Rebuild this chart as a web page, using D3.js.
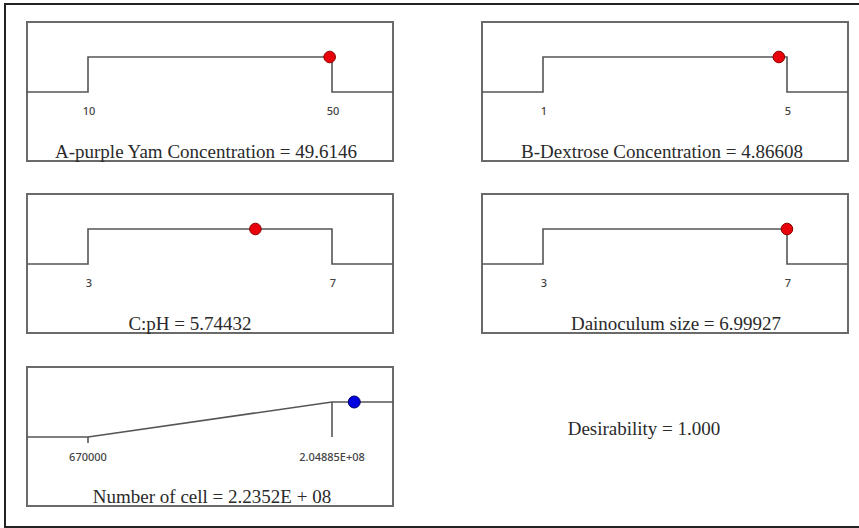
<!DOCTYPE html>
<html>
<head>
<meta charset="utf-8">
<script src="https://cdn.jsdelivr.net/npm/d3@7/dist/d3.min.js"></script>
<style>
  html, body { margin: 0; padding: 0; background: #fff; }
  svg { display: block; }
</style>
</head>
<body>
<svg id="chart" width="859" height="528"></svg>
<script>
// Factor settings for the optimisation ramps
const factorNames = ["A-purple Yam Concentration", "B-Dextrose Concentration", "C:pH", "Dainoculum size"];
const factorLow = [10, 1, 3, 3];
const factorHigh = [50, 5, 7, 7];
const factorOptimum = [49.6146, 4.86608, 5.74432, 6.99927];

// Response settings
const responseName = "Number of cell";
const responseLow = 670000;
const responseHigh = 2.04885e8;
const responseOptimum = 2.2352e8;
const responseTickLabels = ["670000", "2.04885E+08"];
const responseValueLabel = "2.2352E + 08";

const desirability = 1.000;

// Panel layout: [left, top] of each ramp box and horizontal nudge of its caption
const panelPos = [[27, 22], [482, 22], [27, 194], [482, 194], [27, 367]];
const captionShift = [-4, -3, -20, 11, 2];
const panelW = 366, panelH = 139;

const svg = d3.select("#chart");
const ink = "#555";

// outer frame
svg.append("rect")
  .attr("x", 5).attr("y", 4).attr("width", 870).attr("height", 523)
  .attr("fill", "none").attr("stroke", "#222").attr("stroke-width", 2);

function panelScales(i, lo, hi) {
  const [px, py] = panelPos[i];
  const pad = (hi - lo) * 0.25;
  const x = d3.scaleLinear().domain([lo - pad, hi + pad]).range([px, px + panelW]);
  const y = d3.scaleLinear().domain([0, 1]).range([py + 70, py + 35]);
  return { x, y, px, py, dom: x.domain() };
}

function frame(g, px, py) {
  g.append("rect")
    .attr("x", px).attr("y", py).attr("width", panelW).attr("height", panelH)
    .attr("fill", "none").attr("stroke", "#6a6a6a").attr("stroke-width", 2);
}

function caption(g, i, text, px, py) {
  g.append("text")
    .attr("x", px + panelW / 2 + captionShift[i]).attr("y", py + 136)
    .attr("text-anchor", "middle")
    .attr("font-family", "Liberation Serif, Times New Roman, serif")
    .attr("font-size", 19).attr("fill", "#2a2a2a")
    .text(text);
}

function tickLabel(g, x, y, text) {
  g.append("text")
    .attr("x", x).attr("y", y).attr("text-anchor", "middle")
    .attr("font-family", "Noto Sans, Open Sans, sans-serif")
    .attr("font-size", 11).attr("font-weight", 500).attr("fill", "#444")
    .text(text);
}

const line = d3.line();

// factor ramps
factorNames.forEach((name, i) => {
  const lo = factorLow[i], hi = factorHigh[i], opt = factorOptimum[i];
  const { x, y, px, py, dom } = panelScales(i, lo, hi);
  const g = svg.append("g");
  frame(g, px, py);
  const pts = [[dom[0], 0], [lo, 0], [lo, 1], [hi, 1], [hi, 0], [dom[1], 0]]
    .map(d => [x(d[0]), y(d[1])]);
  g.append("path").attr("d", line(pts))
    .attr("fill", "none").attr("stroke", ink).attr("stroke-width", 1.6);
  tickLabel(g, x(lo) + 1, y(0) + 23, String(lo));
  tickLabel(g, x(hi) + 1, y(0) + 23, String(hi));
  g.append("circle").attr("cx", x(opt)).attr("cy", y(1)).attr("r", 5.8)
    .attr("fill", "#e8000b").attr("stroke", "#8a0000").attr("stroke-width", 1);
  caption(g, i, `${name} = ${opt}`, px, py);
});

// response ramp
{
  const i = 4;
  const { x, y, px, py, dom } = panelScales(i, responseLow, responseHigh);
  const g = svg.append("g");
  frame(g, px, py);
  const pts = [[dom[0], 0], [responseLow, 0], [responseHigh, 1], [dom[1], 1]]
    .map(d => [x(d[0]), y(d[1])]);
  g.append("path").attr("d", line(pts))
    .attr("fill", "none").attr("stroke", ink).attr("stroke-width", 1.6);
  g.append("line")
    .attr("x1", x(responseHigh)).attr("x2", x(responseHigh))
    .attr("y1", y(1)).attr("y2", y(0))
    .attr("stroke", ink).attr("stroke-width", 1.6);
  g.append("line")
    .attr("x1", x(responseLow)).attr("x2", x(responseLow))
    .attr("y1", y(0)).attr("y2", y(0) + 6)
    .attr("stroke", ink).attr("stroke-width", 1.6);
  tickLabel(g, x(responseLow), y(0) + 24, responseTickLabels[0]);
  tickLabel(g, x(responseHigh), y(0) + 24, responseTickLabels[1]);
  g.append("circle").attr("cx", x(responseOptimum)).attr("cy", y(1)).attr("r", 6)
    .attr("fill", "#0000e0").attr("stroke", "#00006a").attr("stroke-width", 1);
  caption(g, i, `${responseName} = ${responseValueLabel}`, px, py);
}

// overall desirability
svg.append("text")
  .attr("x", 644).attr("y", 435).attr("text-anchor", "middle")
  .attr("font-family", "Liberation Serif, Times New Roman, serif")
  .attr("font-size", 19).attr("fill", "#2a2a2a")
  .text(`Desirability = ${desirability.toFixed(3)}`);
</script>
</body>
</html>
